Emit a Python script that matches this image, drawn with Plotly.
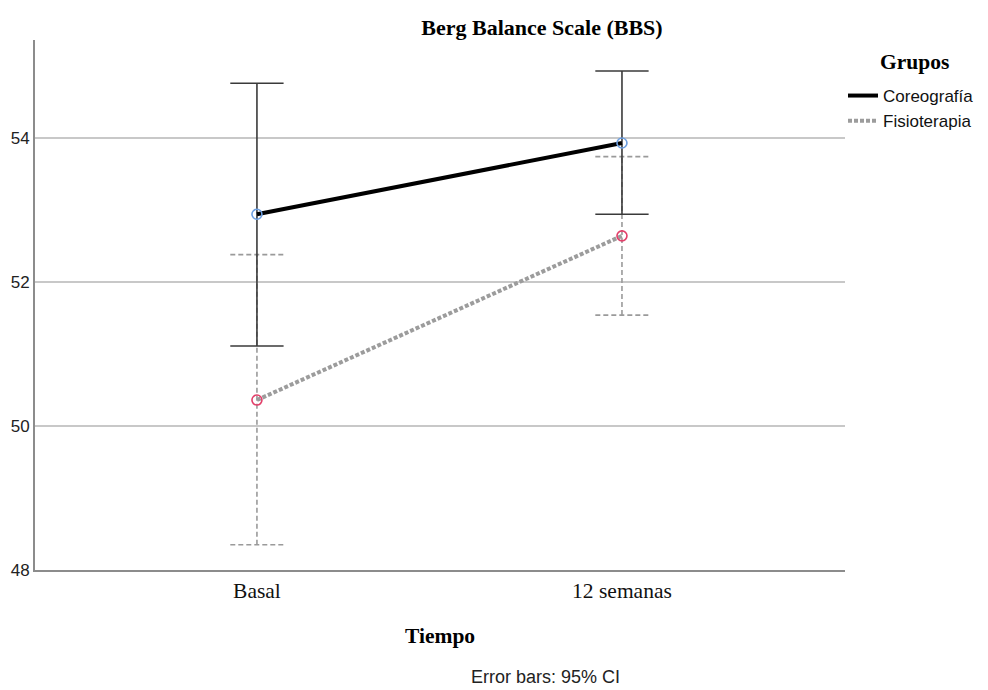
import plotly.graph_objects as go

categories = ["Basal", "12 semanas"]
groups = ["Coreografía", "Fisioterapia"]
coreo_mean = [52.94, 53.93]
coreo_lo = [51.11, 52.94]
coreo_hi = [54.76, 54.93]
fisio_mean = [50.36, 52.64]
fisio_lo = [48.35, 51.54]
fisio_hi = [52.38, 53.74]
y_ticks = [48, 50, 52, 54]

SERIF = "Liberation Serif"
SANS = "Liberation Sans"
xs = list(range(len(categories)))
cap = 0.073

def errbar_xy(means, lo, hi):
    ex, ey = [], []
    for i in xs:
        ex += [i, i, None, i - cap, i + cap, None, i - cap, i + cap, None]
        ey += [lo[i], hi[i], None, lo[i], lo[i], None, hi[i], hi[i], None]
    return ex, ey

fig = go.Figure()

ex, ey = errbar_xy(fisio_mean, fisio_lo, fisio_hi)
fig.add_trace(go.Scatter(x=ex, y=ey, mode="lines", showlegend=False, hoverinfo="skip",
                         line=dict(color="#9a9a9a", width=1.6, dash="5px,3px")))
ex, ey = errbar_xy(coreo_mean, coreo_lo, coreo_hi)
fig.add_trace(go.Scatter(x=ex, y=ey, mode="lines", showlegend=False, hoverinfo="skip",
                         line=dict(color="#3a3a3a", width=1.6)))

fig.add_trace(go.Scatter(x=xs, y=coreo_mean, mode="lines", name=groups[0],
                         line=dict(color="#000000", width=4)))
fig.add_trace(go.Scatter(x=xs, y=fisio_mean, mode="lines", name=groups[1],
                         line=dict(color="#9c9c9c", width=4, dash="4px,2px")))

fig.add_trace(go.Scatter(x=xs, y=coreo_mean, mode="markers", showlegend=False,
                         marker=dict(symbol="circle-open", size=10, color="#6c9ee0",
                                     line=dict(width=1.6, color="#6c9ee0"))))
fig.add_trace(go.Scatter(x=xs, y=fisio_mean, mode="markers", showlegend=False,
                         marker=dict(symbol="circle-open", size=10, color="#e2406a",
                                     line=dict(width=1.6, color="#e2406a"))))

fig.update_layout(
    width=988, height=690,
    margin=dict(l=35, r=143, t=40, b=120, autoexpand=False),
    paper_bgcolor="white", plot_bgcolor="white",
    title=dict(text="<b>Berg Balance Scale (BBS)</b>", x=542/988, xanchor="center",
               y=1 - 27/690, yanchor="middle", xref="container", yref="container",
               font=dict(family=SERIF, size=22, color="#000")),
    xaxis=dict(range=[-0.608, 1.611], tickvals=xs, ticktext=categories,
               showgrid=False, zeroline=False, showline=True, linecolor="#8c8c8c", linewidth=2,
               ticks="", tickfont=dict(family=SERIF, size=21.5, color="#111")),
    yaxis=dict(range=[48, 55.36], tickvals=y_ticks, showgrid=True, gridcolor="#c8c8c8",
               gridwidth=1.5, zeroline=False, showline=True, linecolor="#8c8c8c", linewidth=2,
               ticks="", tickfont=dict(family=SANS, size=17, color="#222")),
    legend=dict(font=dict(family=SANS, size=17, color="#111"),
                xref="container", yref="container", x=843/988, xanchor="left",
                y=1 - 78/690, yanchor="top", bgcolor="rgba(0,0,0,0)", tracegroupgap=0),
    annotations=[
        dict(text="<b>Grupos</b>", xref="paper", yref="paper", x=(914-35)/810,
             y=(570-62)/530, xanchor="center", yanchor="middle", showarrow=False,
             font=dict(family=SERIF, size=21.5, color="#000")),
        dict(text="<b>Tiempo</b>", xref="paper", yref="paper", x=0.5, y=(570-636)/530,
             xanchor="center", yanchor="middle", showarrow=False,
             font=dict(family=SERIF, size=21.5, color="#000")),
        dict(text="Error bars: 95% CI", xref="paper", yref="paper", x=(545-35)/810,
             y=(570-677)/530, xanchor="center", yanchor="middle", showarrow=False,
             font=dict(family=SANS, size=18, color="#222")),
    ],
)

fig.write_html("out.html")
